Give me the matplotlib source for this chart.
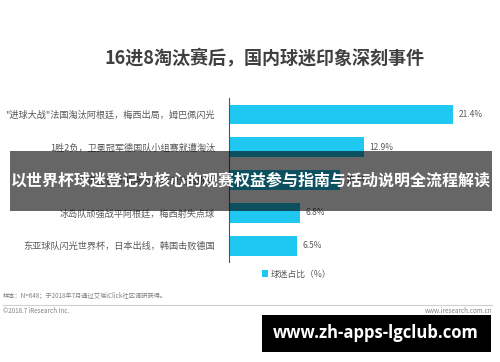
import matplotlib.pyplot as plt
from matplotlib.patches import Rectangle

plt.rcParams['font.family'] = ['Noto Sans CJK SC', 'DejaVu Sans']

# data (top to bottom as in the chart)
events = [
    '"进球大战"法国淘汰阿根廷，梅西出局，姆巴佩闪光',
    '1胜2负，卫冕冠军德国队小组赛就遭淘汰',
    '东道主俄罗斯点球大战淘汰西班牙',
    '冰岛队顽强战平阿根廷，梅西射失点球',
    '东亚球队闪光世界杯，日本出线，韩国击败德国',
]
shares = [21.4, 12.9, 10.6, 6.8, 6.5]
series_name = '球迷占比（%）'

title = '16进8淘汰赛后，国内球迷印象深刻事件'
note = '样本：N=648；于2018年7月通过艾瑞iClick社区调研获得。'
banner = '以世界杯球迷登记为核心的观赛权益参与指南与活动说明全流程解读'
site = 'www.zh-apps-lgclub.com'

bar_color = '#1ec8f0'
text_gray = '#595959'

fig = plt.figure(figsize=(5, 3.62), dpi=100)
fig.patch.set_facecolor('white')
ax = fig.add_axes([0.458, 0.276, 0.524, 0.453])

ypos = list(range(len(events)))[::-1]
bars = ax.barh(ypos, shares, height=0.6, color=bar_color, label=series_name)
for b, v in zip(bars, shares):
    ax.text(b.get_width() + 0.5, b.get_y() + b.get_height() / 2, f'{v}%',
            va='center', ha='left', fontsize=6, color=text_gray)

ax.set_xlim(0, 25)
ax.set_ylim(-0.5, len(events) - 0.5)
ax.set_yticks(ypos)
ax.set_yticklabels(events, fontsize=6.6, color=text_gray)
ax.tick_params(axis='y', length=0, pad=10)
ax.set_xticks([])
for s in ['top', 'right', 'bottom']:
    ax.spines[s].set_visible(False)
ax.spines['left'].set_color('#555555')
ax.spines['left'].set_linewidth(0.8)

fig.legend(loc='center', bbox_to_anchor=(0.594, 0.243), frameon=False,
           fontsize=6.3, handlelength=0.7, handleheight=0.7, handletextpad=0.3,
           labelcolor=text_gray)

fig.text(0.53, 0.84, title, ha='center', va='center', fontsize=13,
         fontweight='bold', color='#404040')

# footer
fig.text(0.006, 0.182, note, ha='left', va='center', fontsize=4.5, color='#808080')
fig.add_artist(plt.Line2D([0.006, 0.984], [0.158, 0.158], color='#d0d0d0',
                          linewidth=0.8, transform=fig.transFigure))
fig.text(0.006, 0.141, '©2018.7 iResearch Inc.', ha='left', va='center',
         fontsize=4.5, color='#808080')
fig.text(0.984, 0.141, 'www.iresearch.com.cn', ha='right', va='center',
         fontsize=4.5, color='#808080')

# overlay banner
fig.add_artist(Rectangle((0.02, 0.417), 0.964, 0.166, transform=fig.transFigure,
                         facecolor='black', alpha=0.6, edgecolor='none', zorder=10))
fig.text(0.502, 0.5, banner, ha='center', va='center', fontsize=11.5,
         fontweight='bold', color='white', zorder=11)

# watermark box
fig.add_artist(Rectangle((0.524, 0.028), 0.458, 0.102, transform=fig.transFigure,
                         facecolor='black', edgecolor='none', zorder=10))
fig.text(0.751, 0.08, site, ha='center', va='center', fontsize=12,
         fontweight='bold', color='white', family='Open Sans', zorder=11)

fig.savefig('out.png', dpi=100)
